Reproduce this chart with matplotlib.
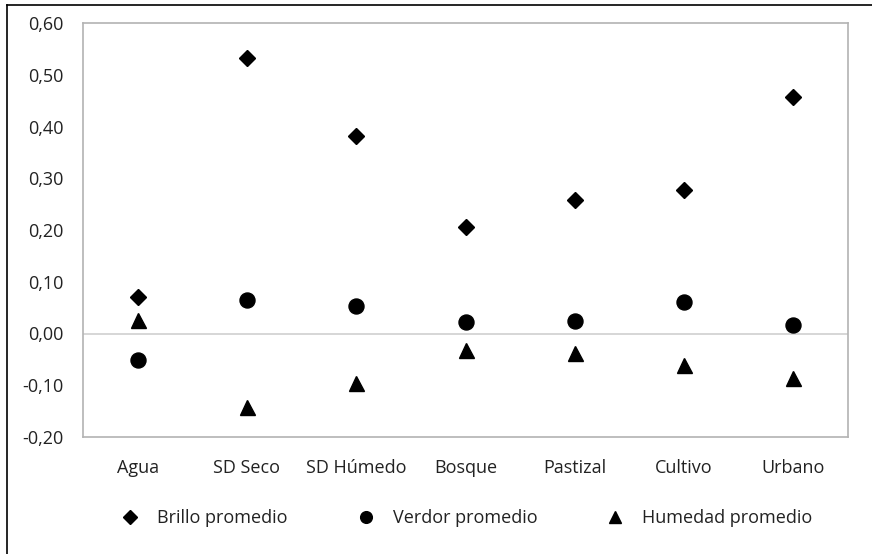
import matplotlib
matplotlib.use("Agg")
import matplotlib.pyplot as plt
from matplotlib.lines import Line2D
from matplotlib.ticker import FuncFormatter, MultipleLocator

categories = ["Agua", "SD Seco", "SD Húmedo", "Bosque", "Pastizal", "Cultivo", "Urbano"]
brillo = [0.070, 0.533, 0.382, 0.206, 0.258, 0.277, 0.457]
verdor = [-0.051, 0.065, 0.053, 0.022, 0.024, 0.061, 0.016]
humedad = [0.026, -0.142, -0.096, -0.031, -0.038, -0.061, -0.086]

plt.rcParams["font.family"] = ["Open Sans", "DejaVu Sans"]
W, H, DPI = 872, 554, 100
FS = 13
fig = plt.figure(figsize=(W / DPI, H / DPI), dpi=DPI)
fig.patch.set_facecolor("white")

ax = fig.add_axes([83 / W, 1 - 437 / H, (848 - 83) / W, (437 - 23) / H])
x = list(range(len(categories)))

ax.plot(x, brillo, linestyle="none", marker="D", ms=8.6, color="black",
        label="Brillo promedio")
ax.plot(x, verdor, linestyle="none", marker="o", ms=10.8, color="black",
        label="Verdor promedio")
ax.plot(x, humedad, linestyle="none", marker="^", ms=10.8, color="black",
        label="Humedad promedio")

ax.set_xlim(-0.5, len(categories) - 0.5)
ax.set_ylim(-0.20, 0.60)
ax.yaxis.set_major_locator(MultipleLocator(0.10))
ax.yaxis.set_major_formatter(FuncFormatter(lambda v, p: f"{v:.2f}".replace(".", ",").replace("-0,00", "0,00")))
ax.set_xticks(x)
ax.set_xticklabels(categories)
ax.tick_params(axis="both", length=0, labelsize=FS, colors="#222222")
ax.tick_params(axis="y", pad=14)
ax.tick_params(axis="x", pad=16)

for s in ax.spines.values():
    s.set_color("#b3b3b3")
    s.set_linewidth(1.2)
ax.axhline(0, color="#d0d0d0", lw=1.2, zorder=0)

leg = fig.legend(loc="center left", bbox_to_anchor=(105 / W, 1 - 518 / H), ncol=3,
                 frameon=False, fontsize=FS, markerscale=0.78, handlelength=1.0,
                 handletextpad=1.0, columnspacing=3.8)
for t in leg.get_texts():
    t.set_color("#222222")

# outer border on the top and left edges
fig.add_artist(Line2D([7 / W, 7 / W], [0, 1 - 5 / H], transform=fig.transFigure,
                      color="black", lw=1.2))
fig.add_artist(Line2D([7 / W, 1], [1 - 5 / H, 1 - 5 / H], transform=fig.transFigure,
                      color="black", lw=1.2))

fig.savefig("out.png", dpi=DPI)
